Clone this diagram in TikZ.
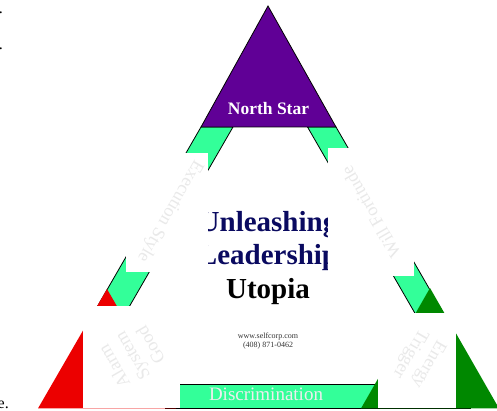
\documentclass[tikz,border=0pt]{standalone}
\usepackage{fontspec}
\setmainfont{Liberation Serif}
\definecolor{purp}{RGB}{96,0,150}
\definecolor{lgreen}{RGB}{51,255,153}
\definecolor{dgreen}{RGB}{0,136,0}
\definecolor{cred}{RGB}{236,0,0}
\definecolor{navy}{RGB}{10,10,96}
\definecolor{ghost}{RGB}{233,233,233}
\definecolor{ghostw}{RGB}{238,238,238}
\tikzset{
  strip/.style={fill=lgreen,draw=black,line width=0.8pt},
  corner/.style={draw=none},
  cover/.style={fill=white,draw=none},
  ghosttext/.style={text=ghost,font=\fontsize{18}{21}\selectfont,align=center,inner sep=0pt},
  titletext/.style={font=\bfseries\fontsize{29}{32}\selectfont,anchor=base,inner sep=0pt},
}
\begin{document}
\begin{tikzpicture}[x=1pt,y=-1pt]
\useasboundingbox (0,0) rectangle (497,411);
% side strips and bottom band
\draw[strip] (201,127) -- (233,127) -- (118.1,326) -- (86.1,326) -- cycle;
\draw[strip] (307.5,127) -- (336,127) -- (450.8,326) -- (422.3,326) -- cycle;
\draw[strip] (165,384) rectangle (470,408);
% corner triangles
\fill[cred,corner] (38,408.4) -- (176,408.4) -- (107,289) -- cycle;
\fill[dgreen,corner] (361,408.4) -- (499,408.4) -- (430,288) -- cycle;
\filldraw[fill=purp,draw=black,line width=0.8pt] (201,127) -- (336,127) -- (268,6) -- cycle;
% title (under the text boxes)
\node[titletext,text=navy] (t1) at (268,232) {Unleashing};
\node[titletext,text=navy] (t2) at (268,264) {Leadership};
\node[titletext,text=black] (t3) at (268,298) {Utopia};
% white text boxes
\fill[cover] (126,153) rectangle (208,272);
\fill[cover] (328,148) rectangle (414,276);
\fill[cover] (83,306) rectangle (180,407.6);
\fill[cover] (378,313) rectangle (456,407.6);
% labels
\node[text=white,font=\bfseries\fontsize{17.5}{20}\selectfont,anchor=base,inner sep=0pt] (ns) at (268.5,115) {North Star};
\node[text=ghostw,font=\fontsize{19}{22}\selectfont,anchor=base,inner sep=0pt] (disc) at (266,400) {Discrimination};
\node[ghosttext,rotate=-120] (ex) at (170,211) {Execution Style};
\node[ghosttext,rotate=120] (wf) at (371,212) {Will Fortitude};
\node[ghosttext,rotate=120] (al) at (132,356) {Alarm\\System\\Good};
\node[ghosttext,rotate=-120] (en) at (419,359) {Energy\\Trigger};
\node[text=black!80,font=\fontsize{8}{9}\selectfont,align=center,inner sep=0pt] (web) at (268,341) {www.selfcorp.com\\(408) 871-0462};
% clipped fragments at the left edge
\begin{scope}
\clip (0,0) rectangle (497,411);
\node[font=\fontsize{16}{18}\selectfont,anchor=base east,inner sep=0pt] (f1) at (3,13.5) {.};
\node[font=\fontsize{16}{18}\selectfont,anchor=base east,inner sep=0pt] (f2) at (3,49.5) {.};
\node[font=\fontsize{16}{18}\selectfont,anchor=base east,inner sep=0pt] (f3) at (9,408) {e.};
\end{scope}
\end{tikzpicture}
\end{document}
